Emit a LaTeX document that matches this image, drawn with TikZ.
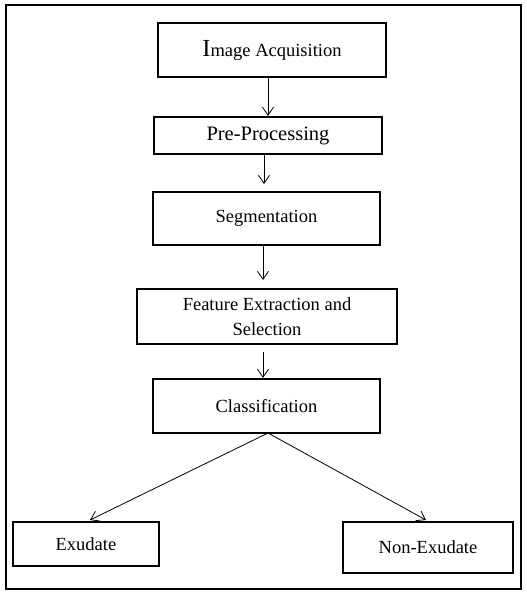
\documentclass[tikz,border=0pt]{standalone}
\usepackage{fontspec}
\setmainfont{Liberation Serif}
\usetikzlibrary{arrows.meta}
\begin{document}
\begin{tikzpicture}[x=1pt,y=-1pt,
  box/.style={draw,line width=2.2pt,inner sep=0pt,align=center,font=\fontsize{18.5}{24.5}\selectfont},
  arr/.style={line width=0.8pt,-{Straight Barb[length=8pt,width=11pt,line width=0.8pt]}}]
\useasboundingbox (0,0) rectangle (527,592);
\draw[line width=2pt] (6,5) rectangle (521,589);
\node[box,minimum width=228pt,minimum height=54pt] (b1) at (272,50) {{\fontsize{24.5}{24.5}\selectfont I}mage Acquisition};
\node[box,minimum width=228pt,minimum height=37pt,font=\fontsize{20.5}{24}\selectfont] (b2) at (268,135.5) {Pre-Processing};
\node[box,minimum width=227pt,minimum height=53pt] (b3) at (266.5,218.5) {Segmentation};
\node[box,minimum width=260pt,minimum height=55pt] (b4) at (267,316.5) {Feature Extraction and\\Selection};
\node[box,minimum width=227pt,minimum height=54pt] (b5) at (266.5,406) {Classification};
\node[box,minimum width=146pt,minimum height=44pt] (ex) at (86,544) {Exudate};
\node[box,minimum width=170pt,minimum height=51pt] (nx) at (428,547.5) {Non-Exudate};
\coordinate (c1) at (268,0);
\coordinate (c2) at (264,0);
\coordinate (c3) at (263,0);
\coordinate (t2) at (264,184);
\coordinate (t3) at (263,280);
\coordinate (s4) at (263,352);
\coordinate (d0) at (268,433);
\coordinate (d1) at (90,520);
\coordinate (d2) at (426,520);
\draw[arr] (b1.south -| c1) -- (b2.north -| c1);
\draw[arr] (b2.south -| c2) -- (t2);
\draw[arr] (b3.south -| c3) -- (t3);
\draw[arr] (s4) -- (b5.north -| c3);
\draw[arr] (d0) -- (d1);
\draw[arr] (d0) -- (d2);
\end{tikzpicture}
\end{document}
